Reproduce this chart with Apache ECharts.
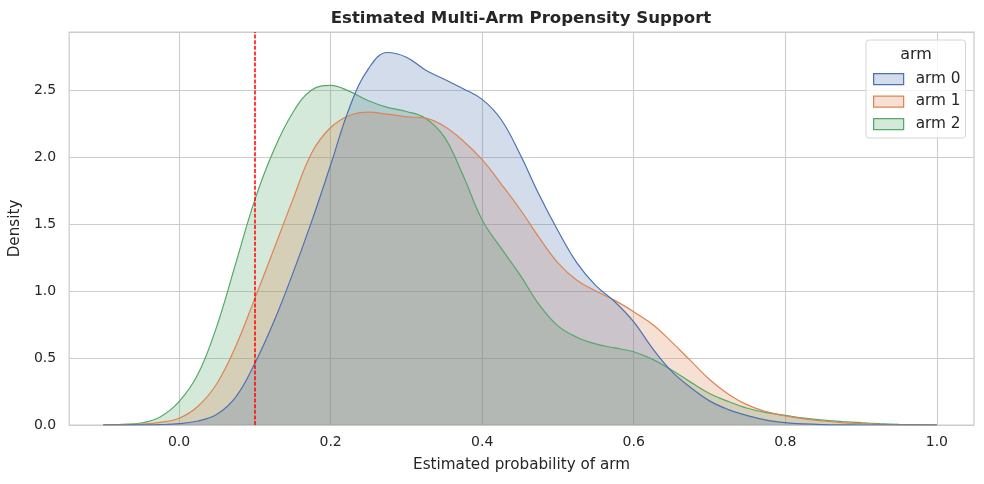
<!DOCTYPE html>
<html>
<head>
<meta charset="utf-8">
<script src="https://cdn.jsdelivr.net/npm/echarts@6/dist/echarts.min.js"></script>
<style>
  html, body { margin: 0; padding: 0; background: #fff; }
  #chart { width: 984px; height: 484px; }
</style>
</head>
<body>
<div id="chart"></div>
<script>
// estimated propensity grid (x values)
var xs = [-0.100, -0.075, -0.050, -0.025, 0.000, 0.025, 0.050, 0.075, 0.100, 0.125,
	0.150, 0.175, 0.200, 0.225, 0.250, 0.275, 0.300, 0.325, 0.350, 0.375,
	0.400, 0.425, 0.450, 0.475, 0.500, 0.525, 0.550, 0.575, 0.600, 0.625,
	0.650, 0.675, 0.700, 0.725, 0.750, 0.775, 0.800, 0.825, 0.850, 0.875,
	0.900, 0.925, 0.950, 0.975, 1.000];

// density read per arm
var arm0 = [0, 0, 0.001, 0.003, 0.01, 0.03, 0.08, 0.21, 0.46, 0.77,
	1.13, 1.52, 1.94, 2.37, 2.66, 2.78, 2.745, 2.65, 2.58, 2.51,
	2.43, 2.28, 2.02, 1.72, 1.45, 1.21, 1.04, 0.92, 0.77, 0.57,
	0.40, 0.28, 0.18, 0.115, 0.07, 0.037, 0.018, 0.008, 0.003, 0.001,
	0, 0, 0, 0, 0];
var arm1 = [0, 0.001, 0.006, 0.02, 0.05, 0.14, 0.31, 0.59, 0.945, 1.31,
	1.68, 2.03, 2.22, 2.31, 2.335, 2.32, 2.30, 2.29, 2.23, 2.12,
	1.98, 1.80, 1.61, 1.40, 1.21, 1.08, 1.00, 0.93, 0.845, 0.75,
	0.62, 0.48, 0.34, 0.23, 0.15, 0.10, 0.067, 0.046, 0.03, 0.017,
	0.01, 0.005, 0.002, 0.001, 0];
var arm2 = [0.002, 0.005, 0.015, 0.06, 0.174, 0.38, 0.74, 1.21, 1.68, 2.05,
	2.33, 2.50, 2.535, 2.49, 2.42, 2.37, 2.34, 2.29, 2.15, 1.86,
	1.53, 1.32, 1.12, 0.90, 0.74, 0.655, 0.605, 0.575, 0.547, 0.49,
	0.41, 0.32, 0.235, 0.175, 0.125, 0.092, 0.072, 0.051, 0.036, 0.026,
	0.017, 0.01, 0.005, 0.002, 0];

var armNames = ['arm 0', 'arm 1', 'arm 2'];
var armColors = ['#4c72b0', '#dd8452', '#55a868'];
var xTicks = [0.0, 0.2, 0.4, 0.6, 0.8, 1.0];
var cutoff = 0.1;

var chart = echarts.init(document.getElementById('chart'));

function fade(hex, a) {
	var n = parseInt(hex.slice(1), 16);
	return 'rgba(' + (n >> 16) + ',' + ((n >> 8) & 255) + ',' + (n & 255) + ',' + a + ')';
}

function makeSeries(idx, values) {
	return {
		name: armNames[idx],
		type: 'line',
		smooth: 0.4,
		symbol: 'none',
		data: xs.map(function (x, i) { return [x, values[i]]; }),
		lineStyle: { color: armColors[idx], width: 1.2 },
		itemStyle: { color: armColors[idx] },
		areaStyle: { color: armColors[idx], opacity: 0.25 }
	};
}

// arm 2 drawn first, arm 0 on top (like seaborn)
var series = [makeSeries(2, arm2), makeSeries(1, arm1), makeSeries(0, arm0)];

// cutoff line
series.push({
	type: 'line',
	data: [],
	z: 10,
	markLine: {
		silent: true,
		symbol: 'none',
		label: { show: false },
		lineStyle: { color: '#ff0000', type: [4, 1.6], width: 1.5 },
		data: [{ xAxis: cutoff }]
	}
});

var font = 'DejaVu Sans';

var option = {
	animation: false,
	title: {
		text: 'Estimated Multi-Arm Propensity Support',
		left: 516,
		textAlign: 'center',
		top: 5,
		textStyle: { fontFamily: font, fontWeight: 'bold', fontSize: 16.6, color: '#262626' }
	},
	grid: {
		left: 68, right: 10, top: 32, bottom: 59,
		show: true, borderColor: '#cccccc', borderWidth: 1.25, backgroundColor: '#fff'
	},
	legend: {
		data: armNames.map(function (n, i) {
			return {
				name: n,
				icon: 'rect',
				itemStyle: { color: fade(armColors[i], 0.25), borderColor: armColors[i], borderWidth: 1.25 }
			};
		}),
		orient: 'vertical',
		left: 866,
		top: 40,
		itemWidth: 30,
		itemHeight: 11,
		itemGap: 4.5,
		padding: [30, 5, 5, 7],
		backgroundColor: 'rgba(255,255,255,0.8)',
		borderColor: '#d6d6d6',
		borderWidth: 1,
		borderRadius: 3,
		selectedMode: false,
		textStyle: { fontFamily: font, fontSize: 15.3, color: '#262626', lineHeight: 18, padding: [0, 0, 0, 7] }
	},
	graphic: [{
		type: 'text',
		x: 916,
		y: 47,
		z: 100,
		style: { text: 'arm', fontFamily: font, fontSize: 16, fill: '#262626', textAlign: 'center' }
	}],
	xAxis: {
		type: 'value',
		min: -0.145,
		max: 1.049,
		name: 'Estimated probability of arm',
		nameLocation: 'middle',
		nameGap: 33,
		nameTextStyle: { fontFamily: font, fontSize: 15.2, color: '#262626' },
		axisLine: { show: false },
		axisTick: { show: false, customValues: xTicks },
		axisLabel: {
			customValues: xTicks,
			margin: 10,
			fontFamily: font, fontSize: 14, color: '#262626',
			formatter: function (v) { return v.toFixed(1); }
		},
		splitLine: { show: true, lineStyle: { color: '#cccccc', width: 1.1 } }
	},
	yAxis: {
		type: 'value',
		min: 0,
		max: 2.933,
		interval: 0.5,
		name: 'Density',
		nameLocation: 'middle',
		nameGap: 34,
		nameTextStyle: { fontFamily: font, fontSize: 15.2, color: '#262626' },
		axisLine: { show: false },
		axisTick: { show: false },
		axisLabel: {
			margin: 13,
			fontFamily: font, fontSize: 14, color: '#262626',
			showMaxLabel: false,
			formatter: function (v) { return v.toFixed(1); }
		},
		splitLine: { show: true, lineStyle: { color: '#cccccc', width: 1.1 } }
	},
	series: series
};

chart.setOption(option);
</script>
</body>
</html>
